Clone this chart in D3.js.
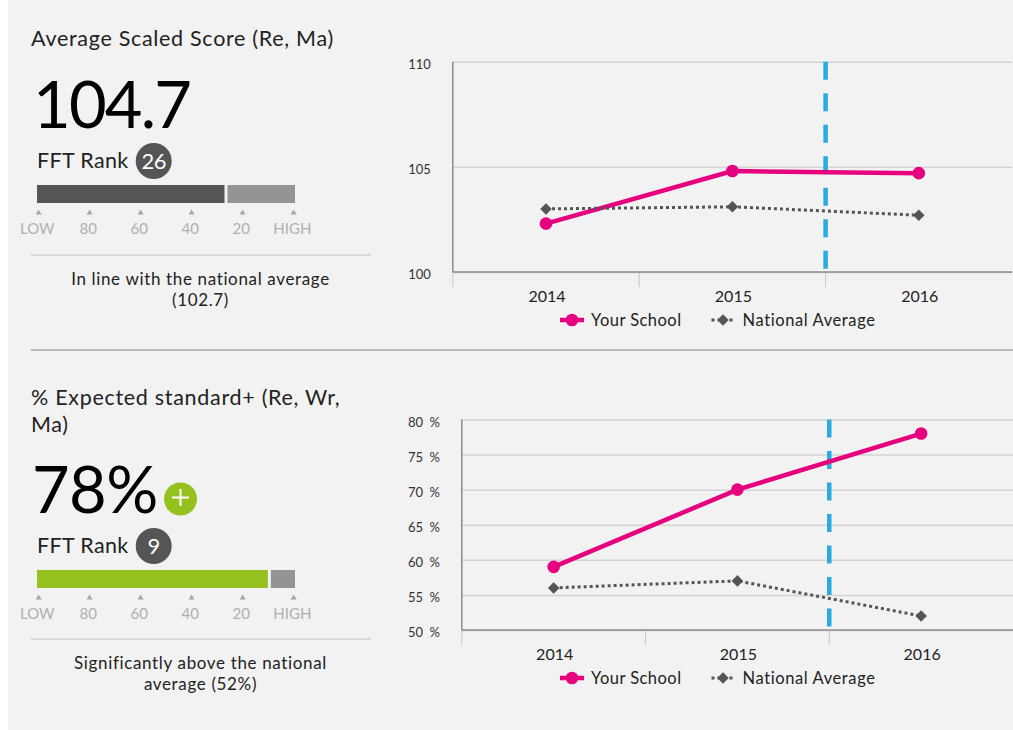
<!DOCTYPE html>
<html>
<head>
<meta charset="utf-8">
<script src="https://cdn.jsdelivr.net/npm/d3@7"></script>
<style>
html, body { margin: 0; padding: 0; background: #fff; }
svg { display: block; font-family: Lato, "Open Sans", sans-serif; }
</style>
</head>
<body>
<div id="chart"></div>
<script>
const years = ["2014", "2015", "2016"];

const scoreSchool = [102.3, 104.8, 104.7];
const scoreNational = [103.0, 103.1, 102.7];
const scoreTicks = [100, 105, 110];

const pctSchool = [59, 70, 78];
const pctNational = [56, 57, 52];
const pctTicks = [50, 55, 60, 65, 70, 75, 80];

const rankTicks = [100, 80, 60, 40, 20, 0];
const rankLabels = ["LOW", "80", "60", "40", "20", "HIGH"];

const PINK = "#e6007e", DARK = "#555555", BLUE = "#29abe2", GREEN = "#95c11f";

const svg = d3.select("#chart").append("svg")
    .attr("width", 1013)
    .attr("height", 730);

svg.append("rect")
    .attr("x", 8).attr("y", 0)
    .attr("width", 1005).attr("height", 730)
    .attr("fill", "#f2f2f2");

// divider between the two rows
svg.append("line")
    .attr("x1", 31).attr("x2", 1013)
    .attr("y1", 350).attr("y2", 350)
    .attr("stroke", "#a3a3a3").attr("stroke-width", 1.5);

function drawChart(opts) {
    const x = d3.scaleBand().domain(years).range([opts.left, opts.right]);
    const y = d3.scaleLinear().domain(opts.domain).range([opts.bottom, opts.top]);
    const g = svg.append("g");

    // horizontal gridlines
    const yAxis = g.append("g")
        .attr("transform", `translate(${opts.left},0)`)
        .call(d3.axisLeft(y).tickValues(opts.ticks).tickSize(0).tickPadding(opts.padding).tickFormat(opts.format));
    yAxis.select(".domain").remove();
    yAxis.selectAll("text")
        .attr("dy", "0.65em")
        .attr("y", -1.5)
        .attr("font-size", 13)
        .attr("word-spacing", 3)
        .attr("font-family", "Lato")
        .attr("fill", "#333");
    yAxis.selectAll(".tick").append("line")
        .attr("x1", 0).attr("x2", opts.right - opts.left)
        .attr("stroke", "#d4d4d4").attr("stroke-width", 1.5);

    // separators under the axis, one at each band edge
    g.selectAll(".sep")
        .data(years)
        .enter().append("line")
        .attr("x1", d => x(d))
        .attr("x2", d => x(d))
        .attr("y1", opts.bottom)
        .attr("y2", opts.bottom + 15)
        .attr("stroke", "#c8c8c8").attr("stroke-width", 1);

    const xAxis = g.append("g")
        .attr("transform", `translate(0,${opts.bottom})`)
        .call(d3.axisBottom(x).tickSize(0).tickPadding(19));
    xAxis.select(".domain").remove();
    xAxis.selectAll("text")
        .attr("x", 1)
        .attr("font-size", 16)
        .attr("font-family", "Lato")
        .attr("fill", "#222");

    g.append("line")
        .attr("x1", opts.left).attr("x2", opts.left)
        .attr("y1", opts.top).attr("y2", opts.bottom)
        .attr("stroke", "#8c8c8c").attr("stroke-width", 1.5);
    g.append("line")
        .attr("x1", opts.left).attr("x2", opts.right)
        .attr("y1", opts.bottom).attr("y2", opts.bottom)
        .attr("stroke", "#8c8c8c").attr("stroke-width", 1.5);

    // dashed marker between 2015 and 2016
    g.append("line")
        .attr("x1", x("2016")).attr("x2", x("2016"))
        .attr("y1", opts.top).attr("y2", opts.bottom - 3)
        .attr("stroke", BLUE).attr("stroke-width", 4.5)
        .attr("stroke-dasharray", "18 13.5");

    const line = d3.line()
        .x((d, i) => x(years[i]) + x.bandwidth() / 2)
        .y(d => y(d));

    g.append("path")
        .attr("d", line(opts.school))
        .attr("fill", "none")
        .attr("stroke", PINK).attr("stroke-width", 4.5);
    g.append("path")
        .attr("d", line(opts.national))
        .attr("fill", "none")
        .attr("stroke", DARK).attr("stroke-width", 3)
        .attr("stroke-dasharray", "3 3");

    g.selectAll(".pt")
        .data(opts.school)
        .enter().append("circle")
        .attr("cx", (d, i) => x(years[i]) + x.bandwidth() / 2)
        .attr("cy", d => y(d))
        .attr("r", 6.3)
        .attr("fill", PINK);

    g.selectAll(".nat")
        .data(opts.national)
        .enter().append("path")
        .attr("d", d3.symbol(d3.symbolDiamond2, 85))
        .attr("transform", (d, i) => `translate(${x(years[i]) + x.bandwidth() / 2},${y(d)})`)
        .attr("fill", DARK);

    // legend
    const leg = g.append("g").attr("transform", `translate(0,${opts.legendY})`);
    leg.append("line").attr("x1", 560).attr("x2", 584)
        .attr("stroke", PINK).attr("stroke-width", 4.5);
    leg.append("circle").attr("cx", 572).attr("r", 6.3).attr("fill", PINK);
    leg.append("text").attr("x", 591).attr("y", 5.5)
        .attr("font-size", 16.5).attr("letter-spacing", 0.45).attr("fill", "#222").text("Your School");
    leg.append("line").attr("x1", 711.5).attr("x2", 733)
        .attr("stroke", DARK).attr("stroke-width", 3).attr("stroke-dasharray", "3 3");
    leg.append("path").attr("d", d3.symbol(d3.symbolDiamond2, 85))
        .attr("transform", "translate(723,0)").attr("fill", DARK);
    leg.append("text").attr("x", 742.5).attr("y", 5.5)
        .attr("font-size", 16.5).attr("letter-spacing", 0.6).attr("fill", "#222").text("National Average");
}

function drawSummary(opts) {
    const g = svg.append("g");

    opts.title.forEach((t, i) => {
        g.append("text")
            .attr("x", 31).attr("y", opts.titleY + i * 27)
            .attr("font-size", 21.5).attr("fill", "#222").attr("letter-spacing", 0.7).text(t);
    });

    g.append("text")
        .attr("x", opts.valueX).attr("y", opts.valueY)
        .attr("font-size", 65).attr("letter-spacing", opts.valueSpacing).attr("fill", "#000").text(opts.value);

    g.append("text")
        .attr("x", 37).attr("y", opts.rankY + 7)
        .attr("font-size", 21.5).attr("fill", "#222").attr("letter-spacing", 0.35).text("FFT Rank");
    g.append("circle")
        .attr("cx", 153.7).attr("cy", opts.rankY)
        .attr("r", 18).attr("fill", DARK);
    g.append("text")
        .attr("x", 153.7).attr("y", opts.rankY + 7.5)
        .attr("text-anchor", "middle")
        .attr("font-size", 22).attr("letter-spacing", -0.5).attr("fill", "#fff").text(opts.rank);

    // percentile bar, low rank numbers are at the right
    const r = d3.scaleLinear().domain([100, 0]).range([37.3, 292.3]);
    const barY = opts.rankY + 24;
    g.append("rect")
        .attr("x", 37).attr("y", barY)
        .attr("width", r(opts.rank) - 1.5 - 37).attr("height", 18)
        .attr("fill", opts.barColor);
    g.append("rect")
        .attr("x", r(opts.rank) + 1.5).attr("y", barY)
        .attr("width", 295 - r(opts.rank) - 1.5).attr("height", 18)
        .attr("fill", "#949494");

    const ticks = g.selectAll(".rk")
        .data(rankTicks)
        .enter().append("g")
        .attr("transform", d => `translate(${r(d)},${barY})`);
    ticks.append("path")
        .attr("d", "M0 24.5L3 29.5L-3 29.5Z")
        .attr("transform", "translate(1.3,0)")
        .attr("fill", "#a6a6a6");
    ticks.append("text")
        .attr("y", 49)
        .attr("text-anchor", "middle")
        .attr("font-size", 15).attr("fill", "#b0b0b0")
        .text((d, i) => rankLabels[i]);

    g.append("line")
        .attr("x1", 31).attr("x2", 371)
        .attr("y1", opts.ruleY).attr("y2", opts.ruleY)
        .attr("stroke", "#cfcfcf").attr("stroke-width", 1.5);

    opts.note.forEach((t, i) => {
        g.append("text")
            .attr("x", 200.5).attr("y", opts.ruleY + 30 + i * 21)
            .attr("text-anchor", "middle")
            .attr("font-size", 17).attr("letter-spacing", 0.65).attr("fill", "#222").text(t);
    });
}

drawSummary({
    title: ["Average Scaled Score (Re, Ma)"], titleY: 45.5,
    value: "104.7", valueX: 33, valueY: 128, valueSpacing: -1.8,
    rank: 26, rankY: 161, barColor: DARK, ruleY: 255,
    note: ["In line with the national average", "(102.7)"]
});

drawSummary({
    title: ["% Expected standard+ (Re, Wr,", "Ma)"], titleY: 404.5,
    value: "78%", valueX: 32, valueY: 513, valueSpacing: -0.6,
    rank: 9, rankY: 546, barColor: GREEN, ruleY: 639,
    note: ["Significantly above the national", "average (52%)"]
});

// plus badge beside 78%
svg.append("circle").attr("cx", 180.5).attr("cy", 499).attr("r", 16.5).attr("fill", GREEN);
svg.append("path").attr("d", "M172,497.5H189M180.5,489V506")
    .attr("stroke", "#fff").attr("stroke-width", 2).attr("fill", "none");

drawChart({
    left: 452.8, right: 1012, top: 61.7, bottom: 272,
    domain: [100, 110], ticks: scoreTicks, padding: 22,
    format: d => d,
    school: scoreSchool, national: scoreNational, legendY: 320
});

drawChart({
    left: 461.8, right: 1013, top: 419.5, bottom: 630,
    domain: [50, 80], ticks: pctTicks, padding: 22,
    format: d => d + " %",
    school: pctSchool, national: pctNational, legendY: 678
});
</script>
</body>
</html>
